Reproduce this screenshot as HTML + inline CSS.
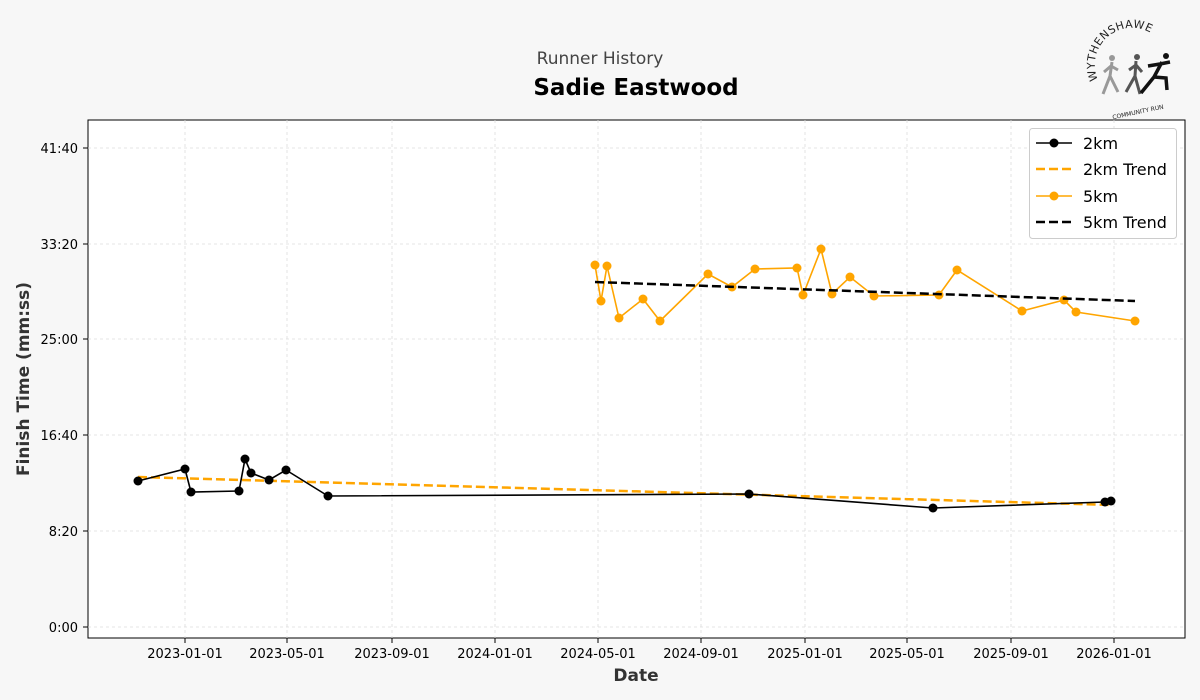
<!DOCTYPE html>
<html><head><meta charset="utf-8"><style>
body{margin:0;background:#f7f7f7;}
svg{display:block;font-family:"DejaVu Sans","Liberation Sans",sans-serif;}
</style></head><body>
<svg width="1200" height="700" viewBox="0 0 1200 700">
<rect width="1200" height="700" fill="#f7f7f7"/>
<text x="600" y="64" text-anchor="middle" font-size="17" fill="#444">Runner History</text>
<text x="636" y="95" text-anchor="middle" font-size="23" font-weight="bold" fill="#000">Sadie Eastwood</text>
<rect x="88" y="120" width="1097" height="518" fill="#fff" stroke="#000" stroke-width="1"/>
<g stroke="#ddd" stroke-dasharray="3,3" stroke-width="0.8">
<line x1="88" x2="1185" y1="148" y2="148"/><line x1="88" x2="1185" y1="244" y2="244"/><line x1="88" x2="1185" y1="339" y2="339"/><line x1="88" x2="1185" y1="435" y2="435"/><line x1="88" x2="1185" y1="531" y2="531"/><line x1="88" x2="1185" y1="627" y2="627"/>
<line y1="120" y2="638" x1="185" x2="185"/><line y1="120" y2="638" x1="287" x2="287"/><line y1="120" y2="638" x1="392" x2="392"/><line y1="120" y2="638" x1="495" x2="495"/><line y1="120" y2="638" x1="598" x2="598"/><line y1="120" y2="638" x1="701" x2="701"/><line y1="120" y2="638" x1="805" x2="805"/><line y1="120" y2="638" x1="907" x2="907"/><line y1="120" y2="638" x1="1011" x2="1011"/><line y1="120" y2="638" x1="1114" x2="1114"/>
</g>
<g font-size="13" fill="#000" text-anchor="end">
<text x="78" y="153">41:40</text><text x="78" y="249">33:20</text><text x="78" y="344">25:00</text><text x="78" y="440">16:40</text><text x="78" y="536">8:20</text><text x="78" y="632">0:00</text>
</g>
<g stroke="#000"><line x1="83" x2="88" y1="148" y2="148"/><line x1="83" x2="88" y1="244" y2="244"/><line x1="83" x2="88" y1="339" y2="339"/><line x1="83" x2="88" y1="435" y2="435"/><line x1="83" x2="88" y1="531" y2="531"/><line x1="83" x2="88" y1="627" y2="627"/>
<line y1="638" y2="643" x1="185" x2="185"/><line y1="638" y2="643" x1="287" x2="287"/><line y1="638" y2="643" x1="392" x2="392"/><line y1="638" y2="643" x1="495" x2="495"/><line y1="638" y2="643" x1="598" x2="598"/><line y1="638" y2="643" x1="701" x2="701"/><line y1="638" y2="643" x1="805" x2="805"/><line y1="638" y2="643" x1="907" x2="907"/><line y1="638" y2="643" x1="1011" x2="1011"/><line y1="638" y2="643" x1="1114" x2="1114"/></g>
<g font-size="13" fill="#000" text-anchor="middle">
<text x="185" y="658">2023-01-01</text><text x="287" y="658">2023-05-01</text><text x="392" y="658">2023-09-01</text><text x="495" y="658">2024-01-01</text><text x="598" y="658">2024-05-01</text><text x="701" y="658">2024-09-01</text><text x="805" y="658">2025-01-01</text><text x="907" y="658">2025-05-01</text><text x="1011" y="658">2025-09-01</text><text x="1114" y="658">2026-01-01</text>
</g>
<text x="636" y="681" text-anchor="middle" font-size="17" font-weight="bold" fill="#333">Date</text>
<text transform="translate(29,379) rotate(-90)" text-anchor="middle" font-size="17" font-weight="bold" fill="#333">Finish Time (mm:ss)</text>
<line x1="138" y1="477" x2="1111" y2="505" stroke="#ffa500" stroke-width="2.5" stroke-dasharray="9,4"/>
<polyline fill="none" stroke="#000" stroke-width="1.6" points="138,481 185,469 191,492 239,491 245,459 251,473 269,480 286,470 328,496 749,494 933,508 1105,502 1111,501"/>
<g fill="#000"><circle cx="138" cy="481" r="4.5"/><circle cx="185" cy="469" r="4.5"/><circle cx="191" cy="492" r="4.5"/><circle cx="239" cy="491" r="4.5"/><circle cx="245" cy="459" r="4.5"/><circle cx="251" cy="473" r="4.5"/><circle cx="269" cy="480" r="4.5"/><circle cx="286" cy="470" r="4.5"/><circle cx="328" cy="496" r="4.5"/><circle cx="749" cy="494" r="4.5"/><circle cx="933" cy="508" r="4.5"/><circle cx="1105" cy="502" r="4.5"/><circle cx="1111" cy="501" r="4.5"/></g>
<polyline fill="none" stroke="#ffa500" stroke-width="1.6" points="595,265 601,301 607,266 619,318 643,299 660,321 708,274 732,287 755,269 797,268 803,295 821,249 832,294 850,277 874,296 939,295 957,270 1022,311 1064,300 1076,312 1135,321"/>
<g fill="#ffa500"><circle cx="595" cy="265" r="4.5"/><circle cx="601" cy="301" r="4.5"/><circle cx="607" cy="266" r="4.5"/><circle cx="619" cy="318" r="4.5"/><circle cx="643" cy="299" r="4.5"/><circle cx="660" cy="321" r="4.5"/><circle cx="708" cy="274" r="4.5"/><circle cx="732" cy="287" r="4.5"/><circle cx="755" cy="269" r="4.5"/><circle cx="797" cy="268" r="4.5"/><circle cx="803" cy="295" r="4.5"/><circle cx="821" cy="249" r="4.5"/><circle cx="832" cy="294" r="4.5"/><circle cx="850" cy="277" r="4.5"/><circle cx="874" cy="296" r="4.5"/><circle cx="939" cy="295" r="4.5"/><circle cx="957" cy="270" r="4.5"/><circle cx="1022" cy="311" r="4.5"/><circle cx="1064" cy="300" r="4.5"/><circle cx="1076" cy="312" r="4.5"/><circle cx="1135" cy="321" r="4.5"/></g>
<line x1="595" y1="282" x2="1135" y2="301" stroke="#000" stroke-width="2.5" stroke-dasharray="9,4"/>
<rect x="1029.5" y="128.5" width="147" height="110" rx="3" fill="#fff" stroke="#ccc"/>
<g font-size="16" fill="#000">
<line x1="1036" x2="1072" y1="143" y2="143" stroke="#000" stroke-width="1.6"/><circle cx="1054" cy="143" r="4.5"/><text x="1083" y="149">2km</text>
<line x1="1036" x2="1072" y1="169" y2="169" stroke="#ffa500" stroke-width="2.5" stroke-dasharray="9,4"/><text x="1083" y="175">2km Trend</text>
<line x1="1036" x2="1072" y1="196" y2="196" stroke="#ffa500" stroke-width="1.6"/><circle cx="1054" cy="196" r="4.5" fill="#ffa500"/><text x="1083" y="202">5km</text>
<line x1="1036" x2="1072" y1="222" y2="222" stroke="#000" stroke-width="2.5" stroke-dasharray="9,4"/><text x="1083" y="228">5km Trend</text>
</g>
<g>
<defs><path id="arc" d="M1098,80 A34,34 0 0 1 1166,50"/></defs>
<text font-size="11" fill="#222" letter-spacing="0.5"><textPath href="#arc">WYTHENSHAWE</textPath></text>
<text x="1138" y="114" font-size="6" text-anchor="middle" fill="#222" transform="rotate(-12 1138 112)">COMMUNITY RUN</text>
<circle cx="1112" cy="58" r="3" fill="#999"/><path d="M1112,62 L1110,76 L1103,94 M1110,76 L1118,92 M1111,66 L1104,72 M1111,66 L1118,70" stroke="#999" stroke-width="3" fill="none"/>
<circle cx="1137" cy="57" r="3" fill="#555"/><path d="M1136,61 L1135,76 L1126,92 M1135,76 L1140,94 M1136,65 L1129,70 M1136,65 L1142,72" stroke="#555" stroke-width="3" fill="none"/>
<circle cx="1166" cy="56" r="3" fill="#111"/><path d="M1162,62 L1154,77 L1141,93 M1154,77 L1166,78 L1167,90 M1160,64 L1148,66 M1160,64 L1170,62" stroke="#111" stroke-width="3.5" fill="none"/>
</g>
</svg>
</body></html>
